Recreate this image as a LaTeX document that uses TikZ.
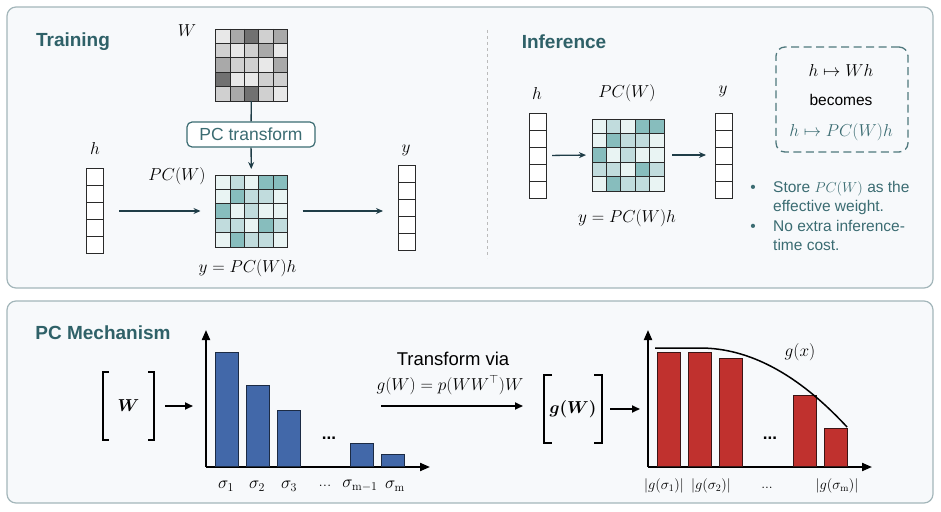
\documentclass[tikz,border=0pt]{standalone}
\usepackage{amsmath}
\usepackage{amssymb}
\usepackage{bm}
\usepackage{fontspec}
\setsansfont{Liberation Sans}
\usetikzlibrary{arrows.meta,positioning,calc}

\definecolor{panelbg}{HTML}{F7F9FB}
\definecolor{panelline}{HTML}{A3B6BA}
\definecolor{titleteal}{HTML}{2F6168}
\definecolor{arrowcol}{HTML}{1F3D47}
\definecolor{gridcol}{HTML}{2A2A2A}
\definecolor{textteal}{HTML}{3B6C72}
\definecolor{dashteal}{HTML}{4F787D}
\definecolor{divcol}{HTML}{BBBBBB}
\definecolor{barblue}{HTML}{4268A9}
\definecolor{blueedge}{HTML}{1C2B44}
\definecolor{barred}{HTML}{C0312E}
\definecolor{rededge}{HTML}{3B1515}
\definecolor{wa}{HTML}{E8E8E8}
\definecolor{wb}{HTML}{D0D0D0}
\definecolor{wc}{HTML}{A9A9A9}
\definecolor{wd}{HTML}{717171}
\definecolor{ta}{HTML}{E9F4F3}
\definecolor{tb}{HTML}{C1DCDD}
\definecolor{tc}{HTML}{87BDBD}

% 5x5 weight grid inside a node
\newcommand{\matcells}[2]{%
  \foreach \cc [count=\k from 0] in #2 {
    \pgfmathtruncatemacro{\rr}{int(\k/5)}
    \pgfmathtruncatemacro{\cl}{mod(\k,5)}
    \fill[\cc] ([shift={(\cl*14.4,\rr*14.4)}]#1.north west) rectangle ++(14.4,14.4);
  }
  \foreach \k in {1,...,4} {
    \draw[gridln] ([xshift=\k*14.4pt]#1.north west) -- ([xshift=\k*14.4pt]#1.south west);
    \draw[gridln] ([yshift=-\k*14.4pt]#1.north west) -- ([yshift=-\k*14.4pt]#1.north east);
  }
  \draw[gridln] (#1.north west) rectangle (#1.south east);
}
% stacked vector of five cells
\newcommand{\vecstack}[1]{%
  \foreach \k in {1,...,4}
    \draw[gridln] ([yshift=-\k*17pt]#1.north west) -- ([yshift=-\k*17pt]#1.north east);
}
\newcommand{\Wgray}{wa,wc,wd,wb,wc,wb,wa,wb,wc,wa,wc,wb,wb,wa,wc,wd,wa,wa,wb,wb,wb,wc,wd,wb,wa}
\newcommand{\PCteal}{ta,tb,ta,tc,tc,ta,tc,tb,tb,ta,tc,ta,tb,ta,ta,tb,tb,ta,tc,tb,ta,tc,tb,tb,ta}

\begin{document}
\begin{tikzpicture}[x=1pt, y=-1pt,
  panel/.style={draw=panelline, fill=panelbg, line width=1.2pt, rounded corners=9pt},
  title/.style={font=\sffamily\bfseries\fontsize{19}{22}\selectfont, text=titleteal, inner sep=0pt},
  lbl/.style={font=\fontsize{17}{20}\selectfont, inner sep=1pt},
  small/.style={font=\fontsize{14}{16}\selectfont, inner sep=1pt},
  mat/.style={minimum size=72, inner sep=0pt, outer sep=0pt},
  vecbox/.style={draw=gridcol, line width=0.9pt, fill=white, minimum width=17, minimum height=85, inner sep=0pt, outer sep=0pt},
  gridln/.style={draw=gridcol, line width=0.8pt},
  flow/.style={-{Stealth[length=7pt,width=6pt]}, line width=1.3pt, draw=arrowcol},
  blk/.style={-{Triangle[length=8pt,width=7pt]}, line width=1.8pt},
  axis/.style={-{Triangle[length=10pt,width=8pt]}, line width=2pt},
  brk/.style={line width=1.8pt},
  bluebar/.style={fill=barblue, draw=blueedge, line width=1pt},
  redbar/.style={fill=barred, draw=rededge, line width=1pt},
  txt/.style={font=\sffamily\fontsize{15.5}{19}\selectfont, inner sep=0pt}
]
\useasboundingbox (0,0) rectangle (941,511);

% Panels
\draw[panel] (7,7) rectangle (933,288);
\draw[panel] (7,301) rectangle (933,503);

%%%%% Training
\node[title] (train) at (73,42) {Training};

\node[mat] (Wt) at (251.5,65) {};
\matcells{Wt}{\Wgray}
\node[lbl] (Wlbl) at (187,31) {$W$};

\node[draw=textteal, line width=1.2pt, rounded corners=5pt, fill=white, minimum width=128, minimum height=25, inner sep=0pt, txt, font=\sffamily\fontsize{17.5}{20}\selectfont, text=textteal] (pct) at (251,134.5) {PC transform};

\node[mat] (PCT) at (251.5,211) {};
\matcells{PCT}{\PCteal}
\node[lbl] (PCTlbl) at (177,176) {$PC(W)$};

\node[vecbox] (hT) at (94.5,211) {};
\vecstack{hT}
\node[lbl] (hTlbl) at (95,148) {$h$};
\node[vecbox] (yT) at (406.5,207.5) {};
\vecstack{yT}
\node[lbl] (yTlbl) at (406,150) {$y$};

\node[lbl] (eqT) at (247.5,268) {$y = PC(W)h$};

\draw[line width=1.3pt, draw=arrowcol] (Wt) -- (pct);
\draw[flow, shorten >=6pt] (pct) -- (PCT);
\draw[flow, shorten <=16pt, shorten >=15pt] (hT.east) -- (PCT.west);
\draw[flow, shorten <=15pt, shorten >=15pt] (PCT.east) -- (PCT.east -| yT.west);

% divider
\draw[divcol, dashed, line width=1pt] (487,30) -- (487,258);

%%%%% Inference
\node[title] (infer) at (564,42) {Inference};

\node[vecbox] (hI) at (537.5,155.5) {};
\vecstack{hI}
\node[lbl] (hIlbl) at (537,93) {$h$};

\node[mat] (PCI) at (628,155) {};
\matcells{PCI}{\PCteal}
\node[lbl] (PCIlbl) at (627,93) {$PC(W)$};

\node[vecbox] (yI) at (723.5,155.5) {};
\vecstack{yI}
\node[lbl] (yIlbl) at (723,91) {$y$};

\node[lbl] (eqI) at (627,218) {$y = PC(W)h$};

\draw[flow, shorten <=6pt, shorten >=6pt] (hI.east) -- (PCI.west);
\draw[flow, shorten <=8pt, shorten >=9pt] (PCI.east) -- (PCI.east -| yI.west);

% dashed box
\node[draw=dashteal, dash pattern=on 8pt off 4.5pt, line width=1.3pt, rounded corners=9pt, minimum width=132, minimum height=105] (dbox) at (842,99.5) {};
\node[lbl] (map1) at (841,70) {$h \mapsto Wh$};
\node[txt] (becomes) at (841,100) {becomes};
\node[lbl, text=textteal] (map2) at (841,132) {$h \mapsto PC(W)h$};

% bullets
\node[txt, text=textteal] (b1) at (753,189) {•};
\node[txt, text=textteal, align=left, anchor=north west] (t1) at (773,181) {Store $PC(W)$ as the\\effective weight.};
\node[txt, text=textteal] (b2) at (753,228) {•};
\node[txt, text=textteal, align=left, anchor=north west] (t2) at (773,220) {No extra inference-\\time cost.};

%%%%% PC Mechanism
\node[title] (mech) at (103,333) {PC Mechanism};

% [W]
\node[minimum width=51, minimum height=68, inner sep=0pt, outer sep=0pt] (Wbr) at (128.5,406) {};
\node[lbl] (Wbold) at (Wbr) {$\bm{W}$};
\draw[brk] ([xshift=6pt]Wbr.north west) -- (Wbr.north west) -- (Wbr.south west) -- ([xshift=6pt]Wbr.south west);
\draw[brk] ([xshift=-6pt]Wbr.north east) -- (Wbr.north east) -- (Wbr.south east) -- ([xshift=-6pt]Wbr.south east);

% left spectrum
\coordinate (O1) at (206,467);
\draw[axis] (O1) -- (206,330);
\draw[axis] (O1) -- (430,467);
\foreach \bx/\by in {215/352, 246/385, 277/410, 350/443, 381/454}
  \draw[bluebar] (\bx,466) rectangle (\bx+23,\by);
\node[font=\sffamily\bfseries\fontsize{17}{20}\selectfont, inner sep=0pt] (dots1) at (329,438) {...};
\node[lbl] (s1) at (226,486) {$\sigma_1$};
\node[lbl] (s2) at (257,486) {$\sigma_2$};
\node[lbl] (s3) at (289,486) {$\sigma_3$};
\node[lbl] (sd) at (325,486) {...};
\node[lbl] (s4) at (360,486) {$\sigma_{\mathrm{m}-1}$};
\node[lbl] (s5) at (395,486) {$\sigma_{\mathrm{m}}$};

\draw[blk, shorten <=11pt] (Wbr.east) -- ([xshift=-13pt]Wbr.east -| O1);

% transform arrow
\node[txt, font=\sffamily\fontsize{18.5}{21}\selectfont] (tfa) at (453,359) {Transform via};
\node[lbl, inner sep=0pt] (tfb) at (450,385) {$g(W) = p(WW^{\top})W$};

% [g(W)]
\node[minimum width=58, minimum height=68, inner sep=0pt, outer sep=0pt] (gWbr) at (573,409) {};
\node[lbl] (gWbold) at (gWbr) {$\bm{g(W)}$};
\draw[brk] ([xshift=8pt]gWbr.north west) -- (gWbr.north west) -- (gWbr.south west) -- ([xshift=8pt]gWbr.south west);
\draw[brk] ([xshift=-8pt]gWbr.north east) -- (gWbr.north east) -- (gWbr.south east) -- ([xshift=-8pt]gWbr.south east);

\draw[blk, shorten <=5pt, shorten >=21pt] ([yshift=3pt]gWbr.west -| tfb.west) -- ([yshift=3pt]gWbr.west);

% right spectrum
\coordinate (O2) at (648,467);
\draw[axis] (O2) -- (648,330);
\draw[axis] (O2) -- (872,467);
\foreach \bx/\by in {657/352, 688/352, 719/358, 793/395, 824/428}
  \draw[redbar] (\bx,466) rectangle (\bx+23,\by);
\draw[line width=1.5pt] (655,348) -- (700,348) .. controls (749,348) and (798,374) .. (847,427);
\node[lbl] (gx) at (800,352) {$g(x)$};
\node[font=\sffamily\bfseries\fontsize{17}{20}\selectfont, inner sep=0pt] (dots2) at (770,438) {...};
\node[small] (g1) at (664,486) {$|g(\sigma_1)|$};
\node[small] (g2) at (711,486) {$|g(\sigma_2)|$};
\node[small] (gd) at (767,488) {...};
\node[small] (g3) at (837,486) {$|g(\sigma_{\mathrm{m}})|$};

\draw[blk, shorten <=8pt, shorten >=8pt] (gWbr.east) -- (gWbr.east -| O2);
\end{tikzpicture}
\end{document}
